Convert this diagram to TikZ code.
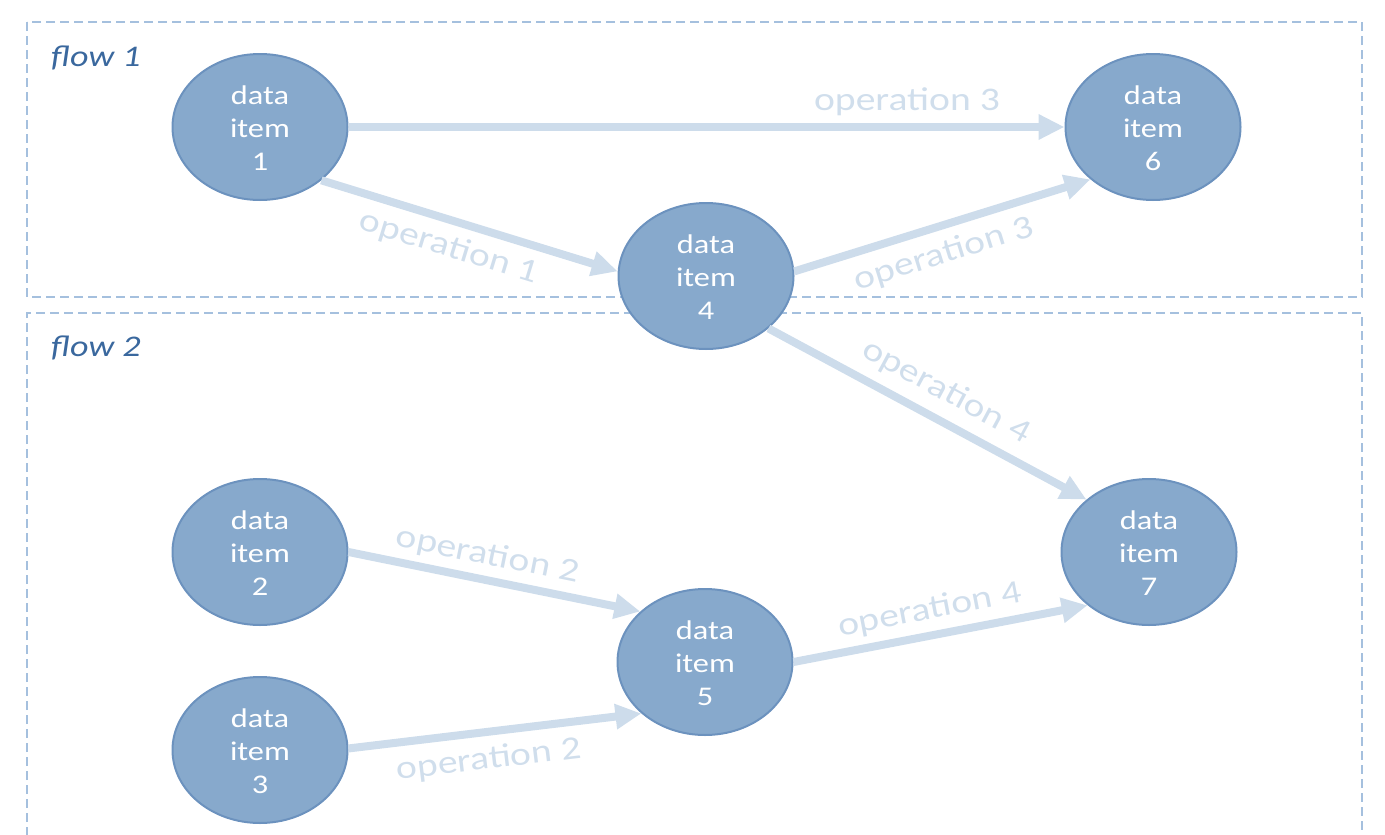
\documentclass[tikz,border=0pt]{standalone}
\usepackage{fontspec}
\setmainfont{Carlito}
\usetikzlibrary{shapes.geometric,arrows.meta}
\definecolor{nodefill}{RGB}{135,169,204}
\definecolor{nodeline}{RGB}{108,146,190}
\definecolor{arrowc}{RGB}{205,220,235}
\definecolor{labelc}{RGB}{208,222,236}
\definecolor{boxc}{RGB}{165,192,222}
\definecolor{flowc}{RGB}{58,104,158}
\newcommand\xs[1]{\scalebox{1.2}[1]{#1}}
\newcommand\ditem[1]{\raisebox{-10pt}[0pt][0pt]{\xs{\begin{tabular}{@{}c@{}}data\\item\\#1\end{tabular}}}}
\begin{document}
\begin{tikzpicture}[x=1pt,y=-1pt,
 item/.style={ellipse, draw=nodeline, line width=2pt, fill=nodefill, minimum width=175pt, minimum height=146pt, inner sep=0pt, text=white, font=\fontsize{27}{33}\selectfont},
 flowarrow/.style={draw=arrowc, line width=8pt, -{Triangle[length=26pt,width=24pt]}},
 oplabel/.style={sloped, inner sep=0pt, text=labelc, font=\fontsize{33}{40}\selectfont},
 flowbox/.style={draw=boxc, line width=2.6pt, dash pattern=on 9pt off 5pt},
 flowlabel/.style={text=flowc, font=\fontsize{30}{36}\selectfont\itshape, anchor=base west, inner sep=0pt}]
\useasboundingbox (0,0) rectangle (1385,835);
\draw[flowbox] (27,22) rectangle (1362,297);
\draw[flowbox] (27,836) -- (27,313) -- (1362,313) -- (1362,836);
\node[flowlabel] (f1) at (51,66) {\xs{flow 1}};
\node[flowlabel] (f2) at (51,356) {\xs{flow 2}};
\node[item] (n1) at (260,127) {\ditem{1}};
\node[item] (n6) at (1153,127) {\ditem{6}};
\node[item] (n4) at (706,276) {\ditem{4}};
\node[item] (n2) at (260,552) {\ditem{2}};
\node[item] (n3) at (260,750) {\ditem{3}};
\node[item] (n5) at (705,662) {\ditem{5}};
\node[item] (n7) at (1149,552) {\ditem{7}};
\draw[flowarrow] (n1.east) -- node[oplabel,pos=.78,above=7pt]{\xs{operation 3}} (n6.west);
\draw[flowarrow] (n1.-41) -- node[oplabel,pos=.457,below=9pt]{\xs{operation 1}} (n4.177);
\draw[flowarrow] (n4.3) -- node[oplabel,pos=.477,below=10pt]{\xs{operation 3}} (n6.-140);
\draw[flowarrow] (n4.-40) -- node[oplabel,pos=.517,above=10pt]{\xs{operation 4}} (n7.140);
\draw[flowarrow] (n2.east) -- node[oplabel,pos=.46,above=6pt]{\xs{operation 2}} (n5.142);
\draw[flowarrow] (n3.1) -- node[oplabel,pos=.468,below=10pt]{\xs{operation 2}} (n5.-141);
\draw[flowarrow] (n5.east) -- node[oplabel,pos=.48,above=7pt]{\xs{operation 4}} (n7.-139);
\end{tikzpicture}
\end{document}
